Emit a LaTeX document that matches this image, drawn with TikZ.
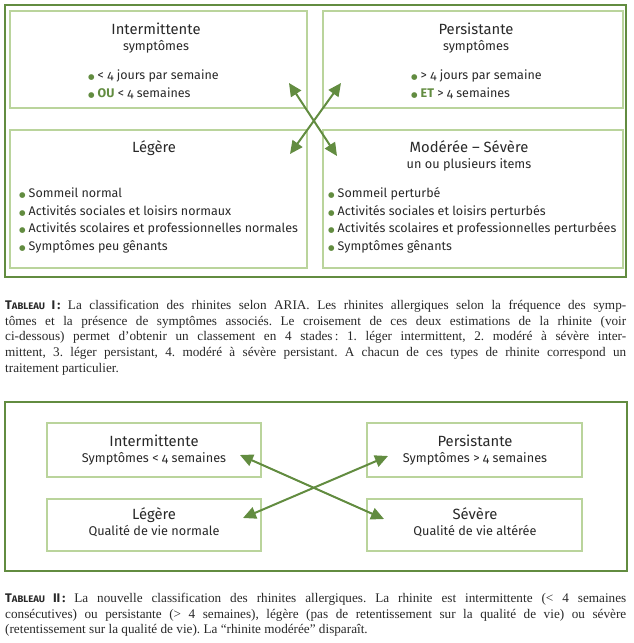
\documentclass[tikz,border=0pt]{standalone}
\usepackage{fontspec}
\usepackage{xcolor}
\usepackage{tikz}
\usetikzlibrary{arrows.meta}
\setmainfont{Liberation Serif}
\newfontfamily\boxfont[Numbers=OldStyle]{Fira Sans}
\newfontfamily\pucefont{DejaVu Sans}
\definecolor{vertfonce}{RGB}{98,140,64}
\definecolor{vertclair}{RGB}{186,212,156}
\definecolor{encre}{RGB}{40,40,40}

\newcommand{\puce}{\textcolor{vertfonce}{\pucefont\fontsize{7.5}{9}\selectfont ●}\hspace{3pt}}
\newcommand{\tabsc}[1]{{\boxfont\bfseries\fontsize{12.5}{15}\selectfont T{\fontsize{9.5}{15}\selectfont ABLEAU}~#1}}
\frenchspacing

\begin{document}
\begin{tikzpicture}[x=1pt, y=-1pt]

        % 1. Page size and styles
        \useasboundingbox (0,0) rectangle (633,643);
        \tikzset{cadre/.style={draw=vertfonce, line width=2.6pt, inner sep=0pt},
                 boite/.style={draw=vertclair, line width=2pt, inner sep=0pt},
                 titre/.style={font=\boxfont\fontsize{14.8}{16}\selectfont, text=encre, anchor=base, inner sep=0pt},
                 soustitre/.style={font=\boxfont\fontsize{12.7}{14}\selectfont, text=encre, anchor=base, inner sep=0pt},
                 ligne/.style={font=\boxfont\fontsize{12.5}{14}\selectfont, text=encre, anchor=base west, inner sep=0pt},
                 fleche/.style={draw=vertfonce, line width=2pt, {Triangle[length=13pt,width=12pt]}-{Triangle[length=13pt,width=12pt]}},
                 legende/.style={font=\fontsize{13.2}{15.7}\selectfont, text=encre, text width=621pt, align=justify, anchor=north west, inner sep=0pt}}

        % 2. Tableau I: frame and the four boxes
        \node[cadre, minimum width=621pt, minimum height=272pt] (cadreI) at (315.5,141) {};
        \node[boite, minimum width=297pt, minimum height=97pt] (inter) at (158.5,59.5) {};
        \node[boite, minimum width=300pt, minimum height=97pt] (persist) at (473,59.5) {};
        \node[boite, minimum width=297pt, minimum height=138pt] (legere) at (158.5,199) {};
        \node[boite, minimum width=300pt, minimum height=138pt] (moderee) at (473,199) {};

        % Intermittente
        \node[titre] (interT) at (156,34) {Intermittente};
        \node[soustitre] (interS) at (156,50) {symptômes};
        \node[ligne] (interA) at (88,79) {\puce< 4 jours par semaine};
        \node[ligne] (interB) at (88,97) {\puce{\bfseries\color{vertfonce}OU} < 4 semaines};

        % Persistante
        \node[titre] (persistT) at (476,34) {Persistante};
        \node[soustitre] (persistS) at (476,50) {symptômes};
        \node[ligne] (persistA) at (411,79) {\puce> 4 jours par semaine};
        \node[ligne] (persistB) at (411,97) {\puce{\bfseries\color{vertfonce}ET} > 4 semaines};

        % Legere
        \node[titre] (legereT) at (154,152) {Légère};
        \node[ligne] (legereA) at (19,197) {\puce Sommeil normal};
        \node[ligne] (legereB) at (19,215) {\puce Activités sociales et loisirs normaux};
        \node[ligne] (legereC) at (19,232) {\puce Activités scolaires et professionnelles normales};
        \node[ligne] (legereD) at (19,250) {\puce Symptômes peu gênants};

        % Moderee - Severe
        \node[titre] (modereeT) at (469,152) {Modérée – Sévère};
        \node[soustitre] (modereeS) at (469,168) {un ou plusieurs items};
        \node[ligne] (modereeA) at (328,197) {\puce Sommeil perturbé};
        \node[ligne] (modereeB) at (328,215) {\puce Activités sociales et loisirs perturbés};
        \node[ligne] (modereeC) at (328,232) {\puce Activités scolaires et professionnelles perturbées};
        \node[ligne] (modereeD) at (328,250) {\puce Symptômes gênants};

        % crossing arrows
        \coordinate (hautG) at (289,83);
        \coordinate (hautD) at (341,83);
        \coordinate (basG) at (290,154);
        \coordinate (basD) at (337,156);
        \draw[fleche] (hautG) -- (basD);
        \draw[fleche] (hautD) -- (basG);

        % 3. Legend of tableau I
        \node[legende] (legendeI) at (5,300) {\tabsc{I\,:} La classification des rhinites selon ARIA. Les rhinites allergiques selon la fréquence des symp-\linebreak tômes et la présence de symptômes associés. Le croisement de ces deux estimations de la rhinite (voir\linebreak ci-dessous) permet d’obtenir un classement en 4 stades\,: 1. léger intermittent, 2. modéré à sévère inter-\linebreak mittent, 3. léger persistant, 4. modéré à sévère persistant. A chacun de ces types de rhinite correspond un\linebreak traitement particulier.};

        % 4. Tableau II: frame and the four boxes
        \node[cadre, minimum width=622pt, minimum height=169pt] (cadreII) at (316,486.5) {};
        \node[boite, minimum width=214pt, minimum height=54pt] (inter2) at (154,450) {};
        \node[boite, minimum width=215pt, minimum height=54pt] (persist2) at (474.5,450) {};
        \node[boite, minimum width=214pt, minimum height=52pt] (legere2) at (154,525) {};
        \node[boite, minimum width=215pt, minimum height=52pt] (severe2) at (474.5,525) {};

        \node[titre] (inter2T) at (154,446) {Intermittente};
        \node[soustitre] (inter2S) at (154,462) {Symptômes < 4 semaines};
        \node[titre] (persist2T) at (475,446) {Persistante};
        \node[soustitre] (persist2S) at (475,462) {Symptômes > 4 semaines};
        \node[titre] (legere2T) at (154,519) {Légère};
        \node[soustitre] (legere2S) at (154,535) {Qualité de vie normale};
        \node[titre] (severe2T) at (475,519) {Sévère};
        \node[soustitre] (severe2S) at (475,535) {Qualité de vie altérée};

        % crossing arrows
        \coordinate (hautG2) at (240,455);
        \coordinate (hautD2) at (388,456);
        \coordinate (basG2) at (243,518);
        \coordinate (basD2) at (384,519);
        \draw[fleche] (hautG2) -- (basD2);
        \draw[fleche] (hautD2) -- (basG2);

        % 5. Legend of tableau II
        \node[legende] (legendeII) at (5,593) {\tabsc{II\,:} La nouvelle classification des rhinites allergiques. La rhinite est intermittente (< 4 semaines\linebreak consécutives) ou persistante (> 4 semaines), légère (pas de retentissement sur la qualité de vie) ou sévère\linebreak (retentissement sur la qualité de vie). La “rhinite modérée” disparaît.};

\end{tikzpicture}
\end{document}
